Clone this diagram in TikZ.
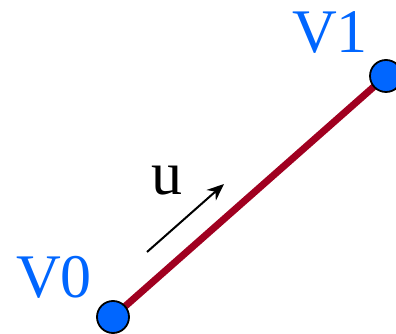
\documentclass[tikz,border=0pt]{standalone}
\usepackage{fontspec}
\setmainfont{Liberation Serif}
\usetikzlibrary{arrows.meta}
\definecolor{vblue}{RGB}{0,102,255}
\definecolor{edgered}{RGB}{160,0,32}
\tikzset{
  vertex/.style={circle, fill=vblue, draw=black, line width=1.8pt, minimum size=32pt, inner sep=0pt},
  vlabel/.style={text=vblue, anchor=base, font=\fontsize{62}{70}\selectfont, inner sep=0pt},
  ulabel/.style={text=black, anchor=base, font=\fontsize{62}{70}\selectfont, inner sep=0pt},
  edge/.style={draw=edgered, line width=7pt},
  dirarrow/.style={draw=black, line width=2pt, -{Stealth[length=17pt,width=14pt]}}
}
\begin{document}
\begin{tikzpicture}[x=1pt,y=1pt]
\useasboundingbox (0,0) rectangle (396,334);
\coordinate (p0) at (113,17);
\coordinate (p1) at (386,258);
\draw[edge] (p0) -- (p1);
\node[vertex] (v0) at (p0) {};
\node[vertex] (v1) at (p1) {};
\node[vlabel] (l0) at (54,36) {V0};
\node[vlabel] (l1) at (330,281) {V1};
\coordinate (a0) at (147,82);
\coordinate (a1) at (224,150);
\draw[dirarrow] (a0) -- (a1);
\node[ulabel] (u) at (167,139) {u};
\end{tikzpicture}
\end{document}
